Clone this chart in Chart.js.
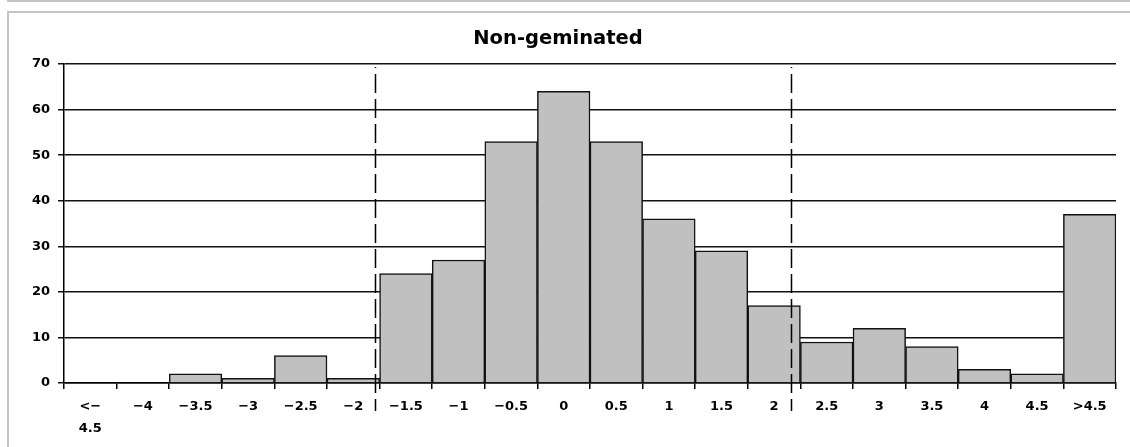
<!DOCTYPE html>
<html>
<head>
<meta charset="utf-8">
<script src="https://cdn.jsdelivr.net/npm/chart.js@4"></script>
<style>
  body { margin: 0; background: #fff; }
  #wrap { position: relative; width: 1130px; height: 447px; overflow: hidden; }
  .topline { position: absolute; left: 7px; top: 0; width: 1123px; height: 2px; background: #c4c4c4; }
  .frame { position: absolute; left: 7px; top: 11px; width: 1140px; height: 460px;
           border-left: 2px solid #c4c4c4; border-top: 2px solid #c4c4c4; box-sizing: border-box; }
  canvas { position: absolute; left: 0; top: 0; }
</style>
</head>
<body>
<div id="wrap">
  <div class="topline"></div>
  <div class="frame"></div>
  <canvas id="my-chart" width="1130" height="447"></canvas>
</div>
<script>
var categories = [["<\u2212", "4.5"], "\u22124", "\u22123.5", "\u22123", "\u22122.5", "\u22122",
  "\u22121.5", "\u22121", "\u22120.5", "0", "0.5", "1", "1.5", "2", "2.5", "3", "3.5", "4", "4.5", ">4.5"];
var counts = [0, 0, 2, 1, 6, 1, 24, 27, 53, 64, 53, 36, 29, 17, 9, 12, 8, 3, 2, 37];
var yTicks = [0, 10, 20, 30, 40, 50, 60, 70];
// dashed cut-off lines, positions on the category axis (index units)
var cutoffs = [5.42, 13.33];

var tickFont = { family: "DejaVu Sans", weight: "bold", size: 13, lineHeight: "22px" };

// draws the vertical dashed lines through the x scale
var cutoffLines = {
  id: "cutoffLines",
  afterDatasetsDraw: function (chart) {
    var ctx = chart.ctx;
    var xs = chart.scales.x;
    var area = chart.chartArea;
    ctx.save();
    ctx.strokeStyle = "#000";
    ctx.lineWidth = 1.5;
    ctx.setLineDash([19, 6]);
    ctx.lineDashOffset = 18;
    cutoffs.forEach(function (c) {
      var x = Math.round(xs.getPixelForValue(c)) + 0.5;
      ctx.beginPath();
      ctx.moveTo(x, area.top + 3);
      ctx.lineTo(x, area.bottom + 28);
      ctx.stroke();
    });
    ctx.restore();
  }
};

function renderChart() {
  var ctx = document.getElementById("my-chart").getContext("2d");
  var myChart = new Chart(ctx, {
    type: "bar",
    data: {
      labels: categories,
      datasets: [
        {
          data: counts,
          backgroundColor: "#c0c0c0",
          borderColor: "#111",
          borderWidth: 1.5,
          barPercentage: 1,
          categoryPercentage: 1,
        },
      ],
    },
    options: {
      responsive: false,
      animation: false,
      devicePixelRatio: 1,
      layout: { padding: { left: 0, right: 14, top: 0, bottom: 0 } },
      plugins: {
        legend: { display: false },
        tooltip: { enabled: false },
        title: {
          display: true,
          text: "Non-geminated",
          color: "#000",
          font: { family: "DejaVu Sans", weight: "bold", size: 19.5, lineHeight: 1.2 },
          padding: { top: 27, bottom: 13.6 },
        },
      },
      scales: {
        x: {
          offset: true,
          afterFit: function (scale) { scale.height = 64; },
          grid: { display: true, drawOnChartArea: false, drawTicks: true, tickLength: 6, color: "#000", lineWidth: 1.5, offset: true },
          border: { display: true, color: "#000", width: 1.5 },
          ticks: { color: "#000", font: tickFont, padding: 7, maxRotation: 0, autoSkip: false },
        },
        y: {
          min: 0,
          max: 70,
          afterFit: function (scale) { scale.width = 64; },
          afterBuildTicks: function (scale) {
            scale.ticks = yTicks.map(function (v) { return { value: v }; });
          },
          grid: { color: "#111", lineWidth: 1.5, tickLength: 6 },
          border: { display: true, color: "#000", width: 1.5 },
          ticks: { color: "#000", font: { family: "DejaVu Sans", weight: "bold", size: 13 }, padding: 8 },
        },
      },
    },
    plugins: [cutoffLines],
  });
}

renderChart();
</script>
</body>
</html>
